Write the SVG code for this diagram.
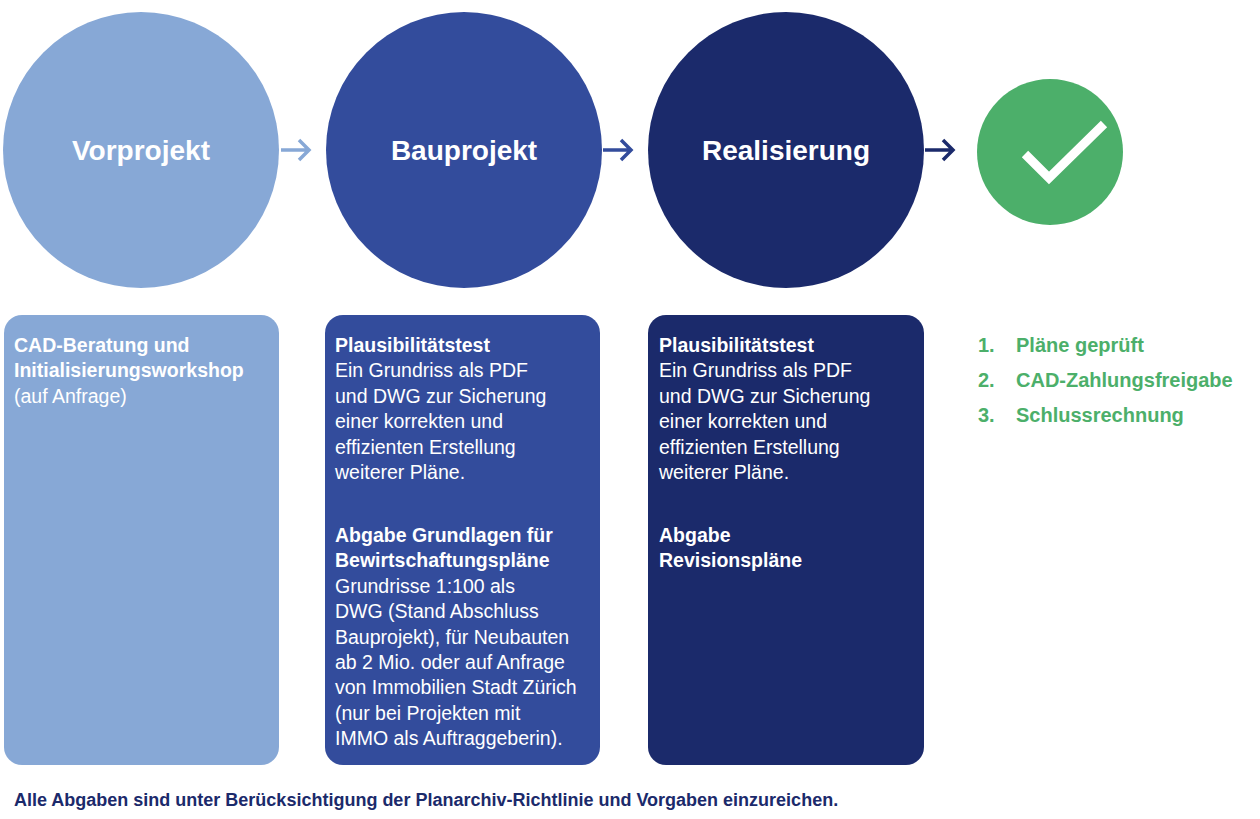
<svg xmlns="http://www.w3.org/2000/svg" width="1260" height="819" viewBox="0 0 1260 819">
<style>
text{font-family:"Liberation Sans",Arial,sans-serif;}
.t{font-size:28px;font-weight:bold;fill:#fff;text-anchor:middle}
.b{font-size:19.5px;fill:#fff}
.bb{font-weight:bold}
.g{font-size:20px;font-weight:bold;fill:#4caf6a}
.ar{fill:none;stroke-width:3.5}
</style>
<rect width="1260" height="819" fill="#fff"/>
<g id="connectors">
<g class="ar" stroke="#87a8d6"><path d="M281 150H309M299 140L309 150L299 160"/></g>
<g class="ar" stroke="#334c9c"><path d="M603 150H631M621 140L631 150L621 160"/></g>
<g class="ar" stroke="#1b2a6b"><path d="M925 150H953M943 140L953 150L943 160"/></g>
</g>
<g id="vorprojekt">
<circle cx="141" cy="150" r="138" fill="#87a8d6"/>
<text class="t" x="141" y="160">Vorprojekt</text>
<rect x="4" y="315" width="275" height="450" rx="18" fill="#87a8d6"/>
<text class="b" x="14" y="352"><tspan class="bb">CAD-Beratung und</tspan><tspan class="bb" x="14" dy="25.4">Initialisierungsworkshop</tspan><tspan x="14" dy="25.4">(auf Anfrage)</tspan></text>
</g>
<g id="bauprojekt">
<circle cx="464" cy="150" r="138" fill="#334c9c"/>
<text class="t" x="464" y="160">Bauprojekt</text>
<rect x="325" y="315" width="275" height="450" rx="18" fill="#334c9c"/>
<text class="b" x="335" y="352"><tspan class="bb">Plausibilitätstest</tspan><tspan x="335" dy="25.4">Ein Grundriss als PDF</tspan><tspan x="335" dy="25.4">und DWG zur Sicherung</tspan><tspan x="335" dy="25.4">einer korrekten und</tspan><tspan x="335" dy="25.4">effizienten Erstellung</tspan><tspan x="335" dy="25.4">weiterer Pläne.</tspan><tspan class="bb" x="335" dy="63">Abgabe Grundlagen für</tspan><tspan class="bb" x="335" dy="25.4">Bewirtschaftungspläne</tspan><tspan x="335" dy="25.4">Grundrisse 1:100 als</tspan><tspan x="335" dy="25.4">DWG (Stand Abschluss</tspan><tspan x="335" dy="25.4">Bauprojekt), für Neubauten</tspan><tspan x="335" dy="25.4">ab 2 Mio. oder auf Anfrage</tspan><tspan x="335" dy="25.4">von Immobilien Stadt Zürich</tspan><tspan x="335" dy="25.4">(nur bei Projekten mit</tspan><tspan x="335" dy="25.4">IMMO als Auftraggeberin).</tspan></text>
</g>
<g id="realisierung">
<circle cx="786" cy="150" r="138" fill="#1b2a6b"/>
<text class="t" x="786" y="160">Realisierung</text>
<rect x="648" y="315" width="276" height="450" rx="18" fill="#1b2a6b"/>
<text class="b" x="659" y="352"><tspan class="bb">Plausibilitätstest</tspan><tspan x="659" dy="25.4">Ein Grundriss als PDF</tspan><tspan x="659" dy="25.4">und DWG zur Sicherung</tspan><tspan x="659" dy="25.4">einer korrekten und</tspan><tspan x="659" dy="25.4">effizienten Erstellung</tspan><tspan x="659" dy="25.4">weiterer Pläne.</tspan><tspan class="bb" x="659" dy="63">Abgabe</tspan><tspan class="bb" x="659" dy="25.4">Revisionspläne</tspan></text>
</g>
<g id="done">
<circle cx="1050" cy="152" r="73" fill="#4caf6a"/>
<path d="M1025 154L1049 178L1104 124" fill="none" stroke="#fff" stroke-width="9"/>
<text class="g" x="978" y="352">1.</text><text class="g" x="1016" y="352">Pläne geprüft</text>
<text class="g" x="978" y="387">2.</text><text class="g" x="1016" y="387">CAD-Zahlungsfreigabe</text>
<text class="g" x="978" y="422">3.</text><text class="g" x="1016" y="422">Schlussrechnung</text>
</g>
<text x="14" y="806" font-size="18" font-weight="bold" fill="#1b2a6b">Alle Abgaben sind unter Berücksichtigung der Planarchiv-Richtlinie und Vorgaben einzureichen.</text>
</svg>
